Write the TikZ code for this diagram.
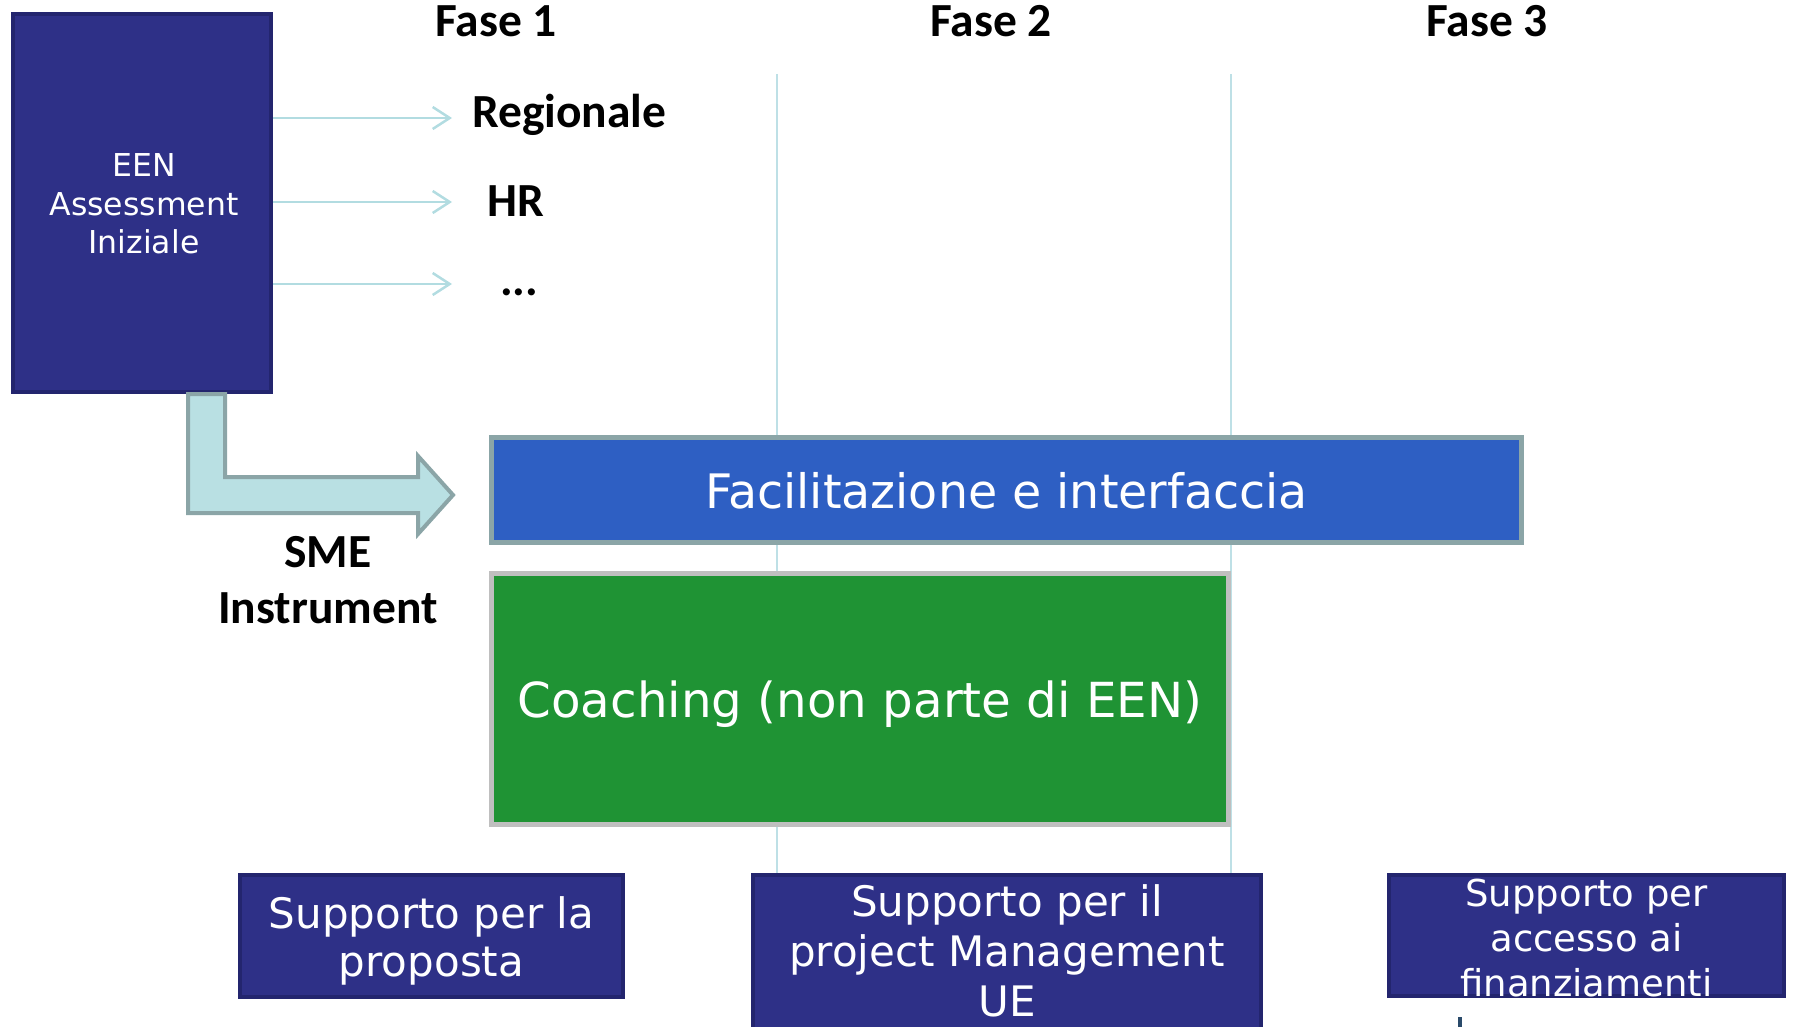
\documentclass[tikz,border=0pt]{standalone}
\usepackage{fontspec}
\setmainfont{DejaVu Sans}
\newfontfamily\carlito{Carlito}
\usetikzlibrary{arrows.meta}
\definecolor{navy}{HTML}{2E3087}
\definecolor{navyedge}{HTML}{23256E}
\definecolor{facblue}{HTML}{2E5FC3}
\definecolor{coachgreen}{HTML}{1F9334}
\definecolor{tealedge}{HTML}{8BA5A7}
\definecolor{tealfill}{HTML}{B9E0E3}
\definecolor{vlinec}{HTML}{BEE0E6}
\definecolor{grayedge}{HTML}{BFBFBF}
\definecolor{arrowc}{HTML}{B2DCE1}
\definecolor{markc}{HTML}{2A4A6A}
\begin{document}
\begin{tikzpicture}[x=1pt,y=-1pt,
  navybox/.style={draw=navyedge,line width=4pt,fill=navy,inner sep=0pt},
  whitetext/.style={text=white,align=center,inner sep=0pt},
  blacklabel/.style={text=black,inner sep=0pt,font=\carlito\bfseries\fontsize{47.5}{50}\selectfont},
  vline/.style={draw=vlinec,line width=2pt},
  thinarrow/.style={draw=arrowc,line width=2.5pt,-{Straight Barb[length=17pt,width=22pt,line width=2.5pt]}}
]
\useasboundingbox (0,0) rectangle (1793,1027);
\clip (0,0) rectangle (1793,1027);

% phase separators
\draw[vline] (777,74) -- (777,875);
\draw[vline] (1231,74) -- (1231,875);

% phase titles
\node[blacklabel,anchor=base] (f1) at (496,37) {Fase 1};
\node[blacklabel,anchor=base] (f2) at (991,37) {Fase 2};
\node[blacklabel,anchor=base] (f3) at (1487,37) {Fase 3};

% EEN box
\node[navybox,minimum width=258pt,minimum height=378pt] (een) at (142,203) {};
\node[whitetext,font=\fontsize{31.5}{38.5}\selectfont] (eentxt) at (144,204) {EEN\\Assessment\\Iniziale};

% labels right of EEN
\node[blacklabel,anchor=base west] (reg) at (472,128) {Regionale};
\node[blacklabel,anchor=base west] (hr) at (487,217) {HR};
\node[blacklabel,anchor=base west] (dots) at (500,295) {...};
\coordinate (a1) at (452,118);
\coordinate (a2) at (452,202);
\coordinate (a3) at (452,284);
\draw[thinarrow] (een.east |- a1) -- (a1);
\draw[thinarrow] (een.east |- a2) -- (a2);
\draw[thinarrow] (een.east |- a3) -- (a3);

% bent arrow
\draw[draw=tealedge,fill=tealfill,line width=4pt,line join=miter]
  (188,394) -- (225,394) -- (225,477) -- (418,477) -- (418,456) -- (453,495)
  -- (418,534) -- (418,513) -- (188,513) -- cycle;
\node[blacklabel,anchor=base] (sme) at (328,567) {SME};
\node[blacklabel,anchor=base] (instr) at (328,623) {Instrument};

% main bars
\node[draw=tealedge,fill=facblue,line width=5pt,minimum width=1030pt,minimum height=105pt,
  text=white,font=\fontsize{47.5}{56}\selectfont,text depth=0pt] (fac) at (1006.5,490) {Facilitazione e interfaccia};
\node[draw=grayedge,fill=coachgreen,line width=5pt,minimum width=737pt,minimum height=251pt,
  text=white,font=\fontsize{48.3}{56}\selectfont,text depth=0pt] (coach) at (860,699) {Coaching (non parte di EEN)};

% bottom boxes
\node[navybox,minimum width=383pt,minimum height=122pt] (b1) at (431.5,936) {};
\node[whitetext,font=\fontsize{42}{48}\selectfont] (b1t) at (431.5,941) {Supporto per la\\proposta};
\node[navybox,minimum width=508pt,minimum height=166pt] (b2) at (1007,958) {};
\node[whitetext,font=\fontsize{42}{50}\selectfont] (b2t) at (1007,951) {Supporto per il\\project Management\\UE};
\node[navybox,minimum width=395pt,minimum height=121pt] (b3) at (1586.5,935.5) {};
\node[whitetext,font=\fontsize{37}{45}\selectfont] (b3t) at (1586.5,938.5) {Supporto per\\accesso ai\\finanziamenti};

% small cut-off mark at the bottom
\fill[markc] (1458,1017) rectangle (1462,1027);
\end{tikzpicture}
\end{document}
